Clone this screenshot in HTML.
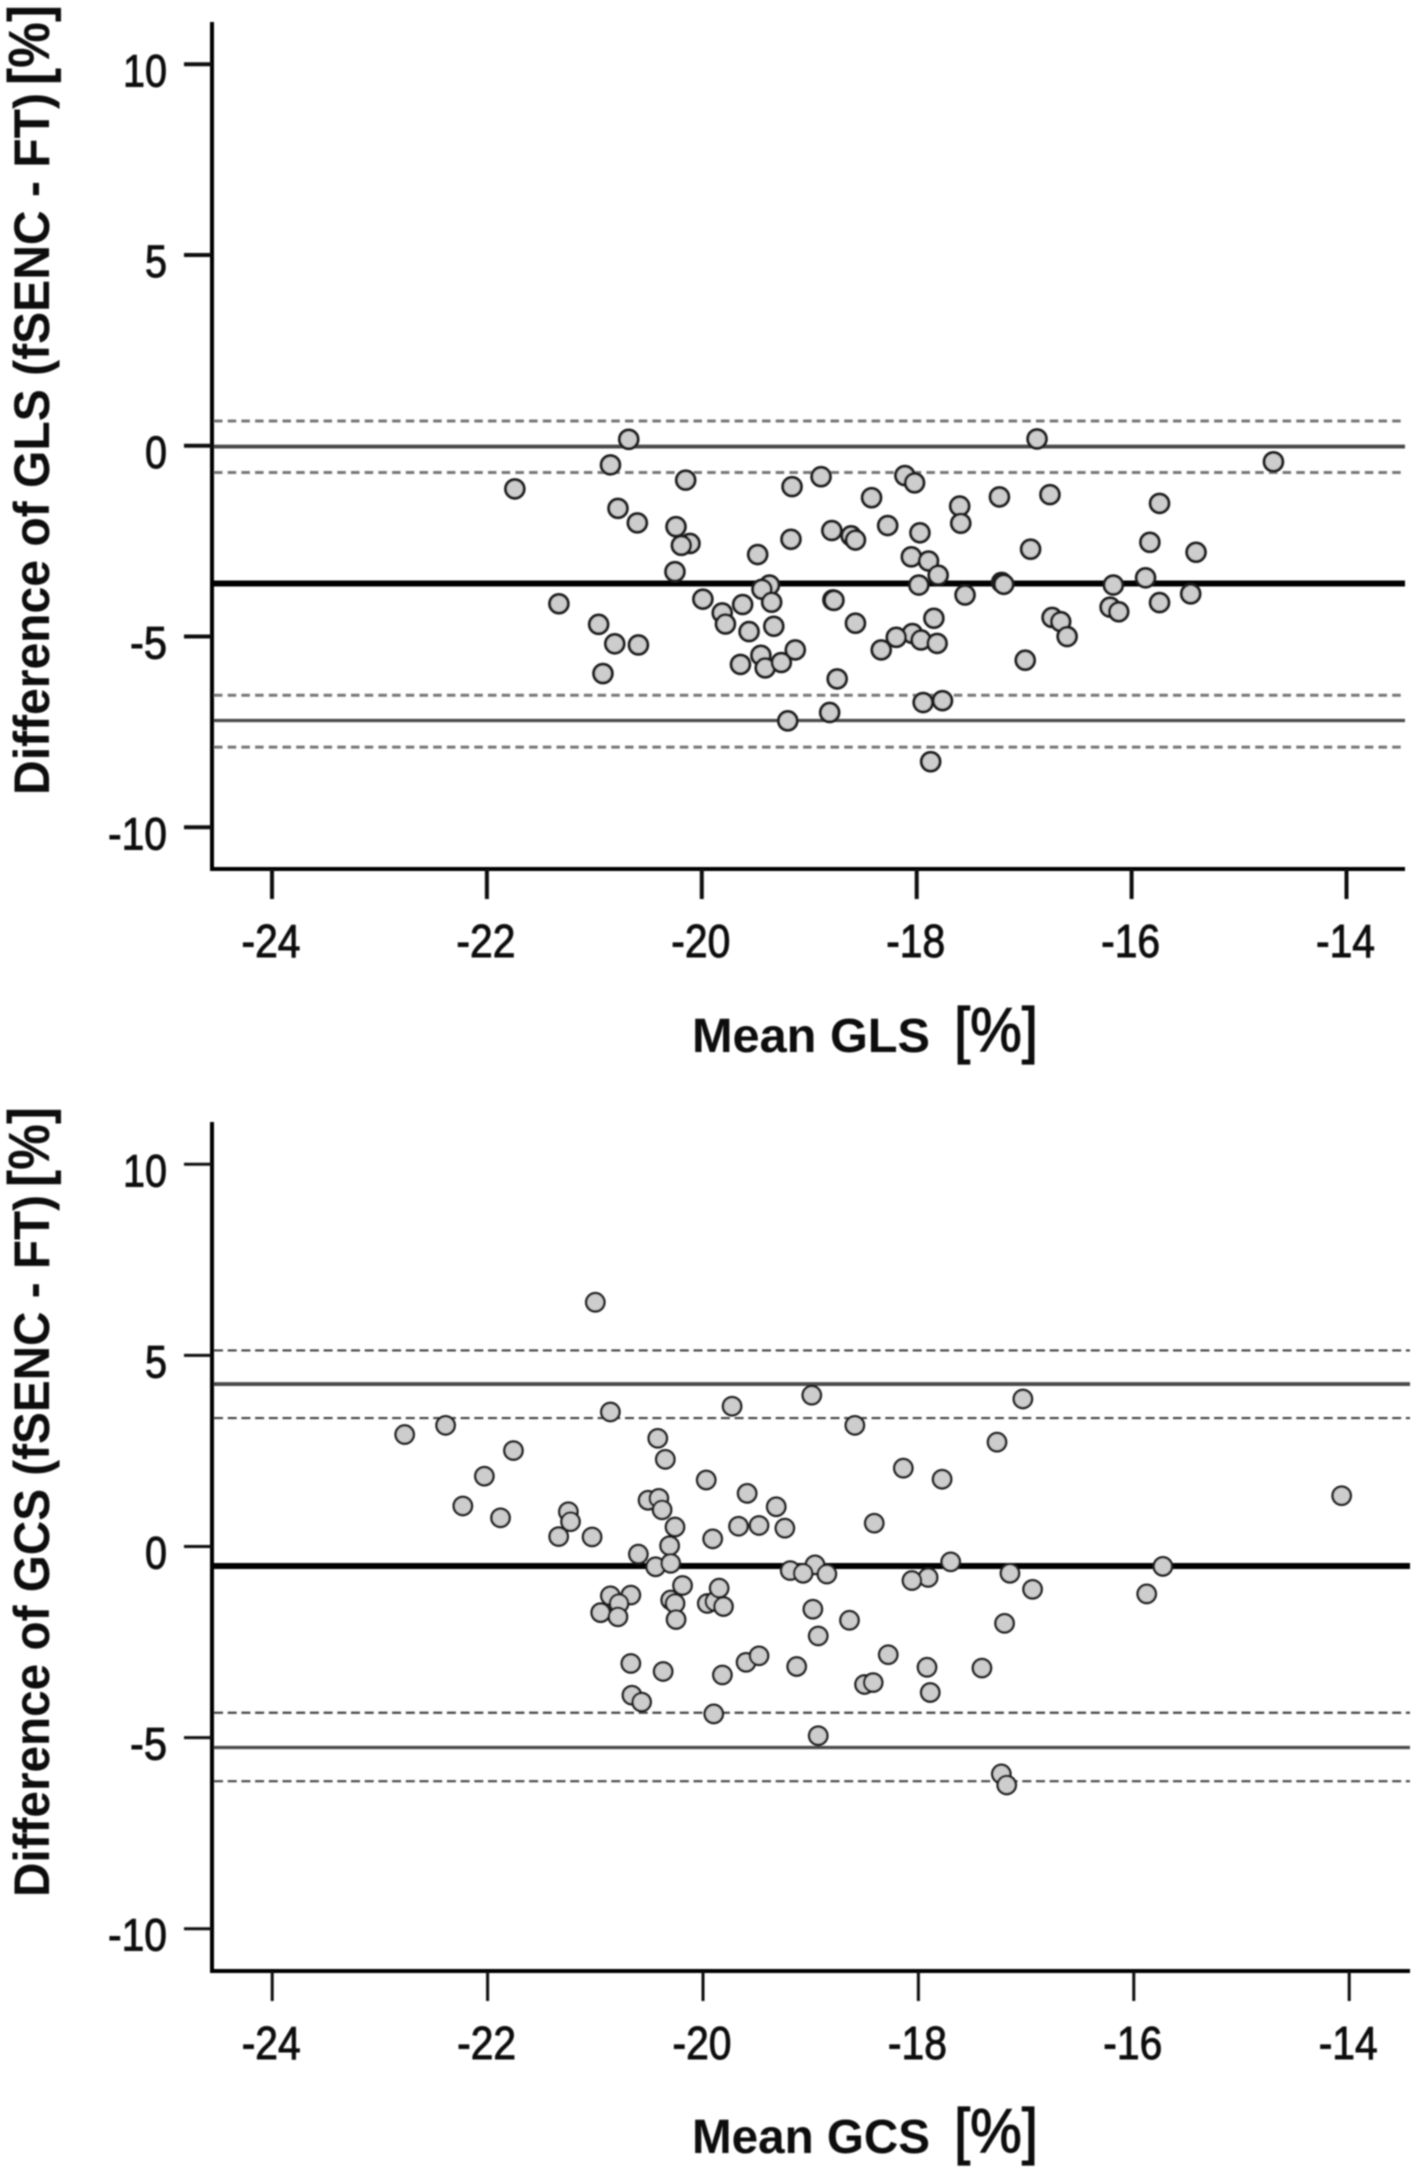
<!DOCTYPE html>
<html lang="en">
<head>
<meta charset="utf-8">
<title>Bland-Altman plots of GLS and GCS</title>
<style>
  html, body { margin: 0; padding: 0; background: #fff; }
  svg { display: block; }
  text { font-family: "Liberation Sans", sans-serif; fill: #0a0a0a; }
</style>
</head>
<body>
<svg id="figure" xmlns="http://www.w3.org/2000/svg" width="1418" height="2172" viewBox="0 0 1418 2172">
  <defs>
    <filter id="soft" x="-2%" y="-2%" width="104%" height="104%"><feGaussianBlur stdDeviation="0.7"/></filter>
  </defs>
  <rect width="1418" height="2172" fill="#fff"/>
  <g id="root" filter="url(#soft)"></g>
</svg>
<script>
// ---- chart data ----
const xTickValues = [-24, -22, -20, -18, -16, -14];
const yTickValues = [10, 5, 0, -5, -10];

const glsMeanLine = -3.61;
const glsLimitLines = [-0.02, -7.20];
const glsCiLines = [0.65, -0.70, -6.54, -7.90];

const gcsMeanLine = -0.51;
const gcsLimitLines = [4.25, -5.26];
const gcsCiLines = [5.13, 3.36, -4.35, -6.14];

const glsMean = [
  -20.68,-20.85,-21.74,-20.15,-19.16,-18.89,-18.42,-20.78,-20.60,-20.24,-20.11,-20.19,
  -18.79,-18.61,-18.57,-19.17,-19.48,-18.27,-20.25,-19.37,-19.44,-18.78,-18.77,-19.35,
  -19.99,-19.62,-19.81,-19.78,-21.33,-20.96,-20.81,-20.59,-19.56,-19.33,-18.57,-19.13,
  -19.45,-19.64,-19.41,-19.26,-18.33,-20.92,-18.74,-18.81,-19.20,
  -16.88,-18.11,-18.02,-17.60,-17.59,-17.23,-16.76,-15.74,-17.97,-16.94,-15.83,-15.40,
  -18.05,-17.89,-17.80,-17.98,-17.21,-17.19,-16.17,-15.87,-17.55,-15.45,-15.74,-16.74,
  -16.66,-16.60,-16.20,-16.12,-17.84,-18.04,-18.19,-17.96,-17.81,-16.99,-17.94,-17.76,
  -17.87,-14.68
];
const glsDiff = [
  0.17,-0.50,-1.13,-0.90,-1.07,-0.81,-1.36,-1.64,-2.02,-2.12,-2.56,-2.61,
  -2.22,-2.36,-2.47,-2.45,-2.85,-2.09,-3.30,-3.65,-3.76,-4.04,-4.05,-4.10,
  -4.02,-4.16,-4.38,-4.67,-4.14,-4.68,-5.19,-5.22,-4.87,-4.73,-4.65,-5.35,
  -5.49,-5.73,-5.82,-5.68,-5.35,-5.97,-6.11,-6.99,-7.21,
  0.18,-0.78,-0.97,-1.58,-2.03,-1.34,-1.28,-1.51,-2.28,-2.71,-2.53,-2.79,
  -2.91,-3.02,-3.39,-3.65,-3.58,-3.63,-3.65,-3.46,-3.91,-3.88,-4.11,-4.50,
  -4.61,-5.00,-4.23,-4.35,-4.52,-4.92,-5.02,-5.09,-5.18,-5.62,-6.73,-6.68,
  -8.28,-0.42
];

const gcsMean = [
  -21.00,-20.86,-19.73,-22.39,-22.77,-21.76,-20.42,-20.35,-22.03,-19.97,-19.59,-22.23,
  -21.88,-21.25,-21.23,-21.34,-21.03,-20.51,-20.41,-20.38,-20.26,-20.31,-19.91,-19.67,
  -19.48,-19.32,-20.60,-20.44,-20.30,-20.19,-20.67,-20.86,-20.78,-20.95,-20.79,-20.30,
  -20.26,-20.25,-19.96,-19.89,-19.85,-19.81,-20.67,-20.37,-20.66,-20.57,-19.90,-19.82,
  -19.60,-19.48,
  -18.99,-17.03,-18.59,-17.27,-18.14,-17.78,-19.24,-18.41,-18.96,-19.19,-19.07,-18.85,
  -17.70,-17.91,-18.06,-17.15,-16.94,-18.98,-18.64,-17.20,-18.93,-18.28,-19.13,-17.92,
  -17.41,-18.50,-18.42,-17.89,-18.93,-17.23,-17.18,-15.88,-15.73,-14.07
];
const gcsDiff = [
  6.39,3.52,3.67,3.17,2.93,2.51,2.83,2.28,1.84,1.74,1.39,1.06,
  0.75,0.91,0.65,0.26,0.25,1.21,1.26,0.96,0.51,0.02,0.20,0.53,
  0.55,1.04,-0.20,-0.53,-0.44,-1.02,-1.27,-1.29,-1.49,-1.73,-1.84,-1.40,
  -1.49,-1.91,-1.49,-1.44,-1.09,-1.57,-3.06,-3.27,-3.89,-4.07,-4.38,-3.36,
  -3.03,-2.86,
  3.96,3.86,3.17,2.73,2.05,1.76,0.48,0.61,-0.48,-0.63,-0.70,-0.72,
  -0.40,-0.81,-0.89,-0.70,-1.12,-1.64,-1.93,-2.01,-2.34,-2.83,-3.14,-3.16,
  -3.18,-3.61,-3.56,-3.82,-4.95,-5.95,-6.24,-1.24,-0.52,1.33
];

// ---- drawing ----
const root = document.getElementById('root');
const NS = 'http://www.w3.org/2000/svg';

function mk(tag, attrs, parent, text) {
  const el = document.createElementNS(NS, tag);
  for (const k in attrs) el.setAttribute(k, attrs[k]);
  if (text !== undefined) el.textContent = text;
  parent.appendChild(el);
  return el;
}

function labelWidth(s) {
  let w = 0;
  for (const c of s) w += (c === '-') ? 15 : 22;
  return w;
}

function hLine(g, name, yPos, x1, x2, width, color, dash) {
  const el = mk('line', { x1: x1, x2: x2, y1: yPos, y2: yPos, stroke: color, 'stroke-width': width }, g);
  if (dash) el.setAttribute('stroke-dasharray', dash);
  
  
}

function drawPanel(p) {
  const xScale = v => p.x0 + (v + 24) * p.kx;
  const yScale = v => p.y0 - v * p.ky;

  const g = mk('g', {}, root);
  
  

  // reference lines
  p.ci.forEach(v => {
    hLine(g, p.id + '-confidence-limit-line', yScale(v), 214, p.xEnd, p.ciWidth, p.ciColor, p.ciDash);
  });
  p.limits.forEach((v, i) => {
    hLine(g, p.id + '-limit-of-agreement-line', yScale(v), 214, p.xEnd, i === 0 ? 3.8 : 3.2, '#4a4a4a');
  });
  hLine(g, p.id + '-mean-difference-line', yScale(p.mean), 214, p.xEnd, 6, '#000');

  // axes
  const yAxis = mk('line', { x1: 212, x2: 212, y1: p.top, y2: p.bottom + 2, stroke: '#000', 'stroke-width': 4 }, g);
  
  
  const xAxis = mk('line', { x1: 210, x2: p.xEnd, y1: p.bottom, y2: p.bottom, stroke: '#000', 'stroke-width': 4 }, g);
  
  

  // y ticks and labels
  yTickValues.forEach(v => {
    const tick = mk('line', { x1: 184, x2: 212, y1: yScale(v), y2: yScale(v), stroke: '#111', 'stroke-width': p.tickWidth }, g);
    
    
    const s = String(v);
    const lab = mk('text', { x: 167, y: yScale(v) + 22, 'text-anchor': 'end', 'font-size': 45, stroke: '#0a0a0a', 'stroke-width': 0.9, textLength: labelWidth(s), lengthAdjust: 'spacingAndGlyphs' }, g, s);
    
    
  });

  // x ticks and labels
  xTickValues.forEach(v => {
    const tick = mk('line', { x1: xScale(v), x2: xScale(v), y1: p.bottom, y2: p.bottom + 30, stroke: '#111', 'stroke-width': p.tickWidth }, g);
    
    
    const s = String(v);
    const lab = mk('text', { x: xScale(v) - 1, y: p.bottom + 88, 'text-anchor': 'middle', 'font-size': 46, stroke: '#0a0a0a', 'stroke-width': 0.9, textLength: labelWidth(s), lengthAdjust: 'spacingAndGlyphs' }, g, s);
    
    
  });

  // points
  p.xs.forEach((v, i) => {
    const pt = mk('circle', { cx: xScale(v), cy: yScale(p.ys[i]), r: p.r, fill: '#cdcdcd', stroke: '#1c1c1c', 'stroke-width': p.sw }, g);
    
    
  });

  // titles
  const yT = mk('text', { transform: 'translate(49,' + p.yTitleBottom + ') rotate(-90)', 'font-size': 50, 'font-weight': 700, textLength: 702, lengthAdjust: 'spacingAndGlyphs' }, g, p.yTitle);
  
  
  const yU = mk('text', { transform: 'translate(49,' + (p.yTitleBottom - 710) + ') rotate(-90)', 'font-size': 58, 'font-weight': 700, textLength: 80, lengthAdjust: 'spacingAndGlyphs' }, g, '[%]');
  
  
  const xT = mk('text', { x: 692, y: p.xTitleBase, 'font-size': 48, 'font-weight': 700, textLength: 238, lengthAdjust: 'spacingAndGlyphs' }, g, p.xTitle);
  
  
  const xU = mk('text', { x: 954, y: p.xTitleBase - 1, 'font-size': 62, stroke: '#0a0a0a', 'stroke-width': 1.2, textLength: 84, lengthAdjust: 'spacingAndGlyphs' }, g, '[%]');
  
  
}

drawPanel({
  id: 'gls', xs: glsMean, ys: glsDiff, mean: glsMeanLine, limits: glsLimitLines, ci: glsCiLines,
  x0: 272, kx: 107.45, y0: 445.8, ky: 38.15, top: 22, bottom: 869, xEnd: 1405,
  r: 9.3, sw: 3, tickWidth: 4, ciWidth: 3, ciColor: '#777', ciDash: '8.5 5.2',
  yTitle: 'Difference of GLS (fSENC - FT)', xTitle: 'Mean GLS', yTitleBottom: 795, xTitleBase: 1052
});
drawPanel({
  id: 'gcs', xs: gcsMean, ys: gcsDiff, mean: gcsMeanLine, limits: gcsLimitLines, ci: gcsCiLines,
  x0: 272.2, kx: 107.7, y0: 1546.5, ky: 38.22, top: 1122, bottom: 1971, xEnd: 1410,
  r: 9.1, sw: 2.5, tickWidth: 3, ciWidth: 2.2, ciColor: '#444', ciDash: '9 4.7',
  yTitle: 'Difference of GCS (fSENC - FT)', xTitle: 'Mean GCS', yTitleBottom: 1897, xTitleBase: 2153
});
</script>
</body>
</html>
